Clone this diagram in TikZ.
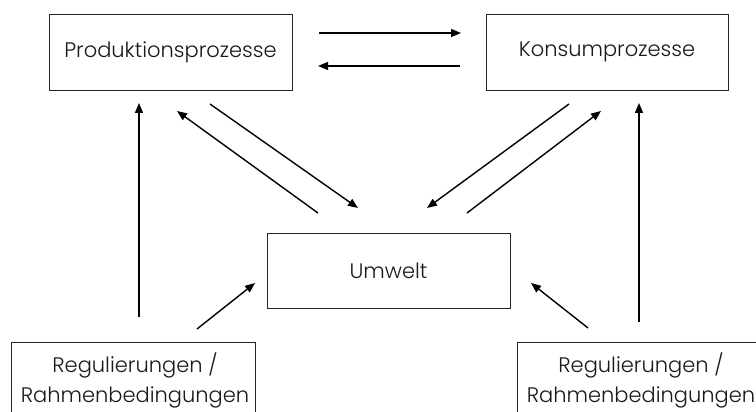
\documentclass[tikz,border=0pt]{standalone}
\usepackage{fontspec}
\setmainfont{Poppins}[UprightFont=* Light]
\usetikzlibrary{arrows.meta}
\begin{document}
\begin{tikzpicture}[x=1pt,y=-1pt,
  box/.style={draw=black!85, line width=0.9pt, fill=white, inner sep=0pt, text=black!90, font=\fontsize{21}{30}\selectfont, align=center},
  lbl/.style={text=black!90, font=\fontsize{21}{30}\selectfont, align=center, inner sep=0pt},
  arr/.style={line width=1.4pt, -{Triangle[length=10pt,width=8pt]}}]
\useasboundingbox (0,0) rectangle (756,412);
\node[box, minimum width=243pt, minimum height=76pt] (prod) at (170.5,52) {Produktionsprozesse};
\node[box, minimum width=242pt, minimum height=76pt] (kons) at (607,52) {Konsumprozesse};
\node[box, minimum width=243pt, minimum height=75pt] (umw) at (388.5,270.5) {Umwelt};
\node[box, minimum width=244pt, minimum height=80pt, anchor=north] (regl) at (133,342) {};
\node[box, minimum width=244pt, minimum height=80pt, anchor=north] (regr) at (639,342) {};
\node[lbl] (tregl) at (135,380) {Regulierungen /\\Rahmenbedingungen};
\node[lbl] (tregr) at (641,380) {Regulierungen /\\Rahmenbedingungen};
% free ends
\coordinate (pk1s) at (319,33); \coordinate (pk1e) at (461,33);
\coordinate (pk2s) at (460,66); \coordinate (pk2e) at (318,66);
\coordinate (a1s) at (318,213); \coordinate (a1e) at (177,111);
\coordinate (a2s) at (210,104); \coordinate (a2e) at (358,208);
\coordinate (a3s) at (569,104); \coordinate (a3e) at (427,208);
\coordinate (a4s) at (467,213); \coordinate (a4e) at (601,111);
\coordinate (b1s) at (197,329); \coordinate (b1e) at (255,283);
\coordinate (b2s) at (588,328); \coordinate (b2e) at (531,283);
\coordinate (v1s) at (139,317); \coordinate (v1e) at (139,103);
\coordinate (v2s) at (639,322); \coordinate (v2e) at (639,103);
\draw[arr] (pk1s) -- (pk1e);
\draw[arr] (pk2s) -- (pk2e);
\draw[arr] (a1s) -- (a1e);
\draw[arr] (a2s) -- (a2e);
\draw[arr] (a3s) -- (a3e);
\draw[arr] (a4s) -- (a4e);
\draw[arr] (b1s) -- (b1e);
\draw[arr] (b2s) -- (b2e);
\draw[arr] (v1s) -- (v1e);
\draw[arr] (v2s) -- (v2e);
\end{tikzpicture}
\end{document}
